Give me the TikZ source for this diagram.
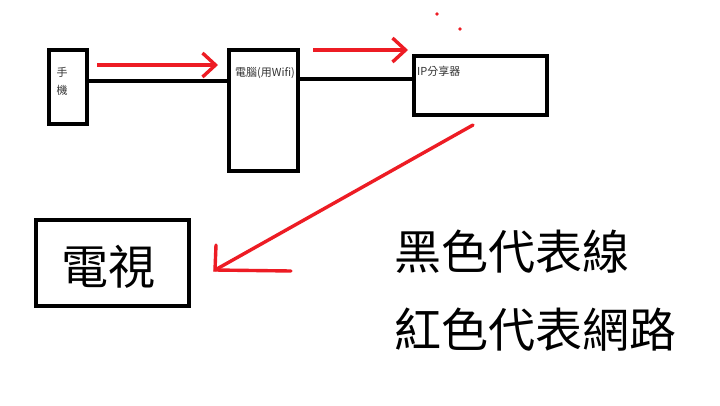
\documentclass[tikz,border=0pt]{standalone}
\usepackage{fontspec}
\setmainfont{Noto Sans CJK TC}
\usetikzlibrary{positioning,arrows.meta}
\definecolor{paintred}{RGB}{237,28,36}
\newcommand{\net}{paintred}
\tikzset{
    line/.style = { line width=3.6pt, },
    box/.style = { draw,line width=4pt,inner sep=0, },
    arrow/.style = { -{Straight Barb[length=13pt,width=24pt]},line width=3.4pt,\net, },
    wee/.style = { text=black!80,font=\fontsize{11}{13}\selectfont,inner sep=0, },
    write/.style = { text=black,font=\fontsize{47}{56}\selectfont,inner sep=0, },
}

\begin{document}
\begin{tikzpicture}[x=1pt,y=-1pt]

    \useasboundingbox [fill=white] (0,0) rectangle (720,405);

    \node [box,minimum width=38pt,minimum height=74pt] (phone) at (68,87) {};
    \node [box,minimum width=69pt,minimum height=121pt] (pc) at (263.5,110.5) {};
    \node [box,minimum width=133pt,minimum height=59pt] (router) at (480.5,85.5) {};
    \node [box,minimum width=153pt,minimum height=86pt] (tv) at (112.5,263) {};

    \node [wee] (phonetop) at (62,72) {手};
    \node [wee] (phonebot) at (62,90) {機};
    \node [wee] (pctext) at (265,73) {電腦(用Wifi)};
    \node [wee,anchor=west] (routertext) at (417,71) {IP分享器};
    \node [write] (tvtext) at (108,267) {電視};

    \node [write,anchor=west] (black) at (394,252) {黑色代表線};
    \node [write,anchor=west] (red) at (394,330) {紅色代表網路};

    % cables
    \draw [line] (phone.east |- 0,81) -- (pc.west |- 0,81);
    \draw [line] (pc.east |- 0,79) -- (router.west |- 0,79);

    % network
    \coordinate (n1) at (97,65);
    \coordinate (n2) at (218,65);
    \coordinate (n3) at (313,50);
    \coordinate (n4) at (408,50);
    \draw [arrow] (n1) -- (n2);
    \draw [arrow] (n3) -- (n4);

    \coordinate (w1) at (473,125);
    \coordinate (w2) at (215,270);
    \coordinate (w3) at (216,245);
    \coordinate (w4) at (291,271);
    \draw [line,\net,line width=3.4pt,line cap=round] (w1) -- (w2);
    \draw [line,\net,line width=3.4pt,line cap=round] (w3) -- (w2) -- (w4);

    \fill [\net] (437,14) circle (1.8);
    \fill [\net] (460,29) circle (1.8);

\end{tikzpicture}
\end{document}
